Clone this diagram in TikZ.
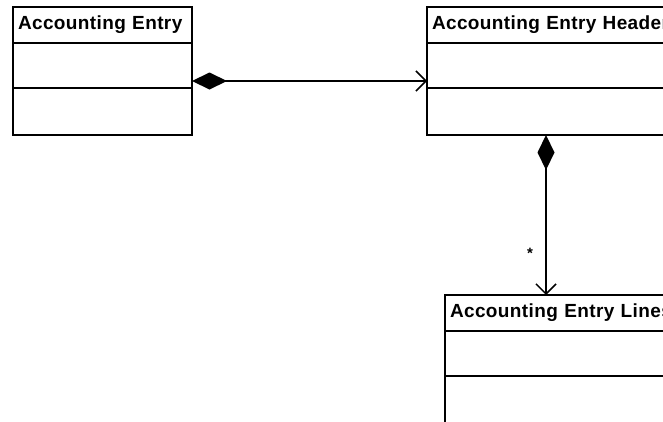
\documentclass[tikz,border=0pt]{standalone}
\usepackage{fontspec}
\setmainfont{Liberation Sans}[LetterSpace=2]
\usetikzlibrary{arrows.meta,positioning}

\begin{document}
\begin{tikzpicture}[x=1pt,y=-1pt,
		classbox/.style={draw,line width=1.6pt,outer sep=0pt,inner sep=0pt,minimum width=#1,anchor=north west},
		classhead/.style={classbox=#1,minimum height=36pt,text width=#1-10pt,align=left,
			font=\bfseries\fontsize{19}{19}\selectfont},
		classpart/.style={classbox=#1,minimum height=45pt,anchor=north},
		assoc/.style={line width=1.4pt,{Diamond[length=35pt,width=17pt]}-{Straight Barb[length=10pt,width=20pt,line width=1.5pt]}}]
		\useasboundingbox (0,0) rectangle (663,421);
		\clip (0,0) rectangle (663,421);
		
		\node[classhead=179] (entry) at (13,7) {Accounting Entry};
		\node[classpart=179, below=0pt of entry] (entryA) {};
		\node[classpart=179, minimum height=47pt, below=0pt of entryA] (entryB) {};
		
		\node[classhead=260] (header) at (427,7) {Accounting Entry Header};
		\node[classpart=260, below=0pt of header] (headerA) {};
		\node[classpart=260, minimum height=47pt, below=0pt of headerA] (headerB) {};
		
		\node[classhead=260] (lines) at (445,295) {Accounting Entry Lines};
		\node[classpart=260, below=0pt of lines] (linesA) {};
		\node[classpart=260, minimum height=70pt, below=0pt of linesA] (linesB) {};
		
		\coordinate (hbot) at ([xshift=119pt]headerB.south west);
		
		\draw[assoc] ([yshift=-15.5pt]entryA.east) -- ([yshift=-15.5pt]headerA.west);
		\draw[assoc] (hbot) -- (hbot |- lines.north)
			node[pos=0.74,left=9pt,font=\bfseries\fontsize{15}{15}\selectfont] (many) {*};
	\end{tikzpicture}
\end{document}
